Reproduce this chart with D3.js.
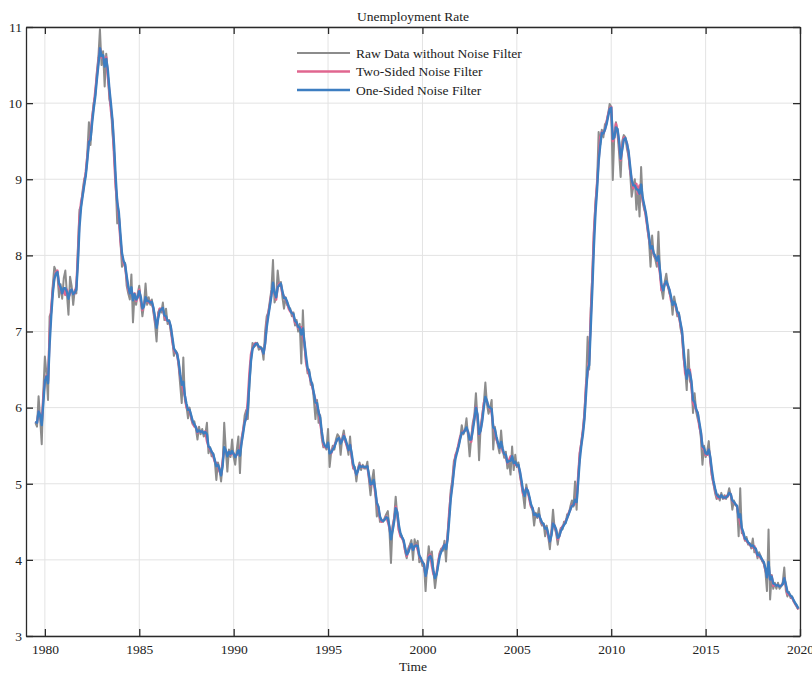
<!DOCTYPE html>
<html>
<head>
<meta charset="utf-8">
<script src="https://cdn.jsdelivr.net/npm/d3@7"></script>
<style>
  body { margin: 0; background: #ffffff; }
  text { font-family: "Liberation Serif", "Times New Roman", serif; fill: #222222; }
</style>
</head>
<body>
<svg id="chart" width="812" height="673"></svg>
<script>
// Monthly unemployment rate, first observation July 1979, one value per month.
const startYear = 1979;
const startMonth = 7;

// Raw series (Jul 1979 .. Dec 2019), one row per calendar year
const rawData = [
  5.80, 5.75, 6.15, 5.85, 5.52, 6.20,
  6.67, 6.45, 6.10, 7.20, 7.25, 7.60, 7.85, 7.80, 7.75, 7.45, 7.62, 7.43,
  7.70, 7.80, 7.50, 7.22, 7.72, 7.60, 7.35, 7.55, 7.50, 8.10, 8.60, 8.65,
  8.85, 9.00, 9.05, 9.35, 9.75, 9.45, 9.80, 10.00, 10.10, 10.40, 10.60, 10.97,
  10.50, 10.68, 10.22, 10.65, 10.40, 10.05, 9.95, 9.60, 9.35, 8.95, 8.42, 8.55,
  8.20, 7.85, 7.90, 7.90, 7.60, 7.50, 7.42, 7.75, 7.12, 7.50, 7.35, 7.50,
  7.60, 7.40, 7.20, 7.35, 7.63, 7.35, 7.45, 7.35, 7.42, 7.25, 7.10, 6.87,
  7.25, 7.30, 7.25, 7.38, 7.15, 7.30, 7.10, 7.15, 7.00, 6.90, 6.68, 6.75,
  6.72, 6.55, 6.30, 6.06, 6.66, 6.10, 6.02, 5.86, 6.00, 5.85, 5.78, 5.82,
  5.72, 5.58, 5.75, 5.65, 5.72, 5.62, 5.65, 5.80, 5.40, 5.48, 5.36, 5.40,
  5.30, 5.05, 5.28, 5.20, 5.03, 5.25, 5.80, 5.45, 5.16, 5.45, 5.35, 5.58,
  5.35, 5.25, 5.45, 5.62, 5.14, 5.60, 5.70, 5.90, 5.97, 5.85, 6.30, 6.62,
  6.85, 6.80, 6.82, 6.85, 6.76, 6.80, 6.78, 6.63, 7.00, 7.20, 7.25, 7.40,
  7.55, 7.94, 7.38, 7.45, 7.80, 7.60, 7.65, 7.45, 7.30, 7.45, 7.35, 7.32,
  7.30, 7.20, 7.25, 7.08, 7.15, 7.00, 7.10, 6.58, 7.28, 6.80, 6.62, 6.45,
  6.50, 6.30, 6.32, 6.10, 5.85, 6.10, 5.80, 5.90, 5.60, 5.48, 5.50, 5.45,
  5.72, 5.22, 5.42, 5.50, 5.45, 5.58, 5.65, 5.62, 5.38, 5.60, 5.70, 5.55,
  5.50, 5.38, 5.62, 5.35, 5.20, 5.22, 5.03, 5.20, 5.28, 5.18, 5.25, 5.20,
  5.20, 5.29, 5.05, 4.85, 5.05, 5.18, 4.90, 4.57, 4.70, 4.50, 4.52, 4.50,
  4.55, 4.60, 4.64, 4.40, 3.96, 4.45, 4.55, 4.83, 4.58, 4.38, 4.35, 4.30,
  4.25, 4.11, 4.02, 4.15, 4.20, 4.26, 4.00, 4.27, 4.18, 4.25, 3.97, 4.02,
  3.92, 3.95, 3.59, 3.95, 4.18, 4.00, 4.11, 3.85, 3.63, 3.80, 3.95, 4.10,
  4.15, 4.12, 4.25, 3.98, 4.35, 4.60, 4.92, 5.05, 5.30, 5.35, 5.45, 5.50,
  5.60, 5.77, 5.65, 5.70, 5.86, 5.62, 5.36, 5.60, 5.80, 5.90, 6.19, 5.85,
  5.31, 5.75, 5.90, 6.05, 6.33, 6.05, 5.92, 6.00, 6.10, 5.45, 5.75, 5.60,
  5.50, 5.40, 5.70, 5.45, 5.34, 5.42, 5.20, 5.30, 5.12, 5.49, 5.18, 5.38,
  5.22, 5.28, 5.10, 5.00, 4.85, 4.68, 4.99, 4.88, 4.82, 4.70, 4.65, 4.45,
  4.62, 4.55, 4.68, 4.50, 4.45, 4.48, 4.31, 4.45, 4.30, 4.14, 4.38, 4.66,
  4.42, 4.35, 4.20, 4.35, 4.42, 4.40, 4.50, 4.48, 4.60, 4.60, 4.70, 4.78,
  4.70, 5.03, 4.66, 5.10, 5.40, 5.55, 5.70, 5.95, 6.30, 6.93, 6.50, 7.30,
  7.75, 8.30, 8.70, 8.95, 9.62, 9.45, 9.65, 9.55, 9.72, 9.75, 9.85, 9.99,
  9.95, 8.99, 9.60, 9.75, 9.60, 9.35, 9.03, 9.50, 9.58, 9.55, 9.40, 9.30,
  9.10, 8.77, 8.90, 9.00, 8.60, 8.88, 8.51, 9.16, 8.70, 8.60, 8.55, 8.35,
  8.20, 7.85, 8.26, 8.00, 7.95, 7.85, 8.31, 7.80, 7.55, 7.43, 7.65, 7.76,
  7.60, 7.50, 7.45, 7.22, 7.46, 7.35, 7.20, 7.25, 7.05, 6.95, 6.65, 6.50,
  6.23, 6.76, 6.35, 6.30, 5.93, 6.19, 5.95, 5.85, 5.78, 5.60, 5.25, 5.50,
  5.35, 5.42, 5.56, 5.28, 5.10, 5.00, 4.88, 4.80, 4.86, 4.78, 4.88, 4.80,
  4.85, 4.80, 4.85, 4.94, 4.85, 4.66, 4.78, 4.72, 4.70, 4.31, 4.94, 4.35,
  4.35, 4.25, 4.30, 4.20, 4.22, 4.15, 4.28, 4.10, 4.15, 4.02, 4.10, 4.05,
  3.98, 3.95, 3.85, 3.59, 4.40, 3.48, 3.80, 3.62, 3.70, 3.62, 3.70, 3.62,
  3.65, 3.70, 3.90, 3.60, 3.52, 3.58, 3.50, 3.52, 3.45, 3.42, 3.38, 3.35
];

// Two-sided (smoothed) estimate
const twoSided = [
  5.82, 5.80, 5.95, 5.90, 5.80, 6.15,
  6.35, 6.42, 6.35, 6.95, 7.30, 7.55, 7.70, 7.78, 7.80, 7.60, 7.55, 7.50,
  7.55, 7.48, 7.55, 7.45, 7.50, 7.55, 7.50, 7.50, 7.60, 8.00, 8.50, 8.70,
  8.80, 8.95, 9.10, 9.30, 9.50, 9.55, 9.80, 9.95, 10.15, 10.35, 10.55, 10.72,
  10.60, 10.62, 10.50, 10.60, 10.35, 10.15, 9.90, 9.75, 9.30, 8.90, 8.70, 8.50,
  8.20, 8.00, 7.90, 7.85, 7.70, 7.55, 7.50, 7.55, 7.45, 7.50, 7.40, 7.45,
  7.55, 7.40, 7.28, 7.35, 7.44, 7.40, 7.38, 7.40, 7.37, 7.30, 7.15, 7.06,
  7.20, 7.30, 7.30, 7.28, 7.20, 7.15, 7.15, 7.12, 7.06, 6.87, 6.76, 6.72,
  6.71, 6.58, 6.41, 6.32, 6.23, 6.15, 6.00, 5.99, 5.95, 5.88, 5.80, 5.75,
  5.75, 5.67, 5.69, 5.69, 5.68, 5.67, 5.69, 5.56, 5.49, 5.45, 5.42, 5.36,
  5.29, 5.27, 5.23, 5.16, 5.12, 5.30, 5.45, 5.42, 5.40, 5.42, 5.38, 5.40,
  5.40, 5.36, 5.38, 5.40, 5.45, 5.55, 5.70, 5.82, 5.86, 6.10, 6.45, 6.70,
  6.78, 6.83, 6.85, 6.82, 6.80, 6.78, 6.76, 6.71, 6.85, 7.10, 7.24, 7.35,
  7.50, 7.60, 7.50, 7.42, 7.58, 7.63, 7.62, 7.50, 7.46, 7.42, 7.38, 7.30,
  7.26, 7.25, 7.20, 7.12, 7.10, 7.05, 7.03, 7.06, 6.93, 6.85, 6.60, 6.50,
  6.43, 6.35, 6.27, 6.18, 6.10, 6.02, 5.95, 5.80, 5.66, 5.52, 5.48, 5.49,
  5.49, 5.42, 5.40, 5.46, 5.50, 5.55, 5.58, 5.60, 5.55, 5.57, 5.64, 5.57,
  5.49, 5.44, 5.51, 5.36, 5.22, 5.18, 5.12, 5.18, 5.25, 5.22, 5.22, 5.22,
  5.22, 5.22, 5.09, 4.98, 5.00, 5.03, 4.88, 4.75, 4.66, 4.55, 4.50, 4.52,
  4.53, 4.57, 4.50, 4.42, 4.31, 4.40, 4.53, 4.70, 4.61, 4.40, 4.31, 4.29,
  4.24, 4.13, 4.05, 4.11, 4.18, 4.20, 4.13, 4.18, 4.20, 4.13, 4.05, 4.00,
  3.98, 3.92, 3.79, 3.90, 4.05, 4.07, 3.92, 3.81, 3.79, 3.83, 3.98, 4.08,
  4.12, 4.17, 4.20, 4.16, 4.30, 4.62, 4.85, 5.00, 5.22, 5.38, 5.42, 5.53,
  5.62, 5.66, 5.69, 5.70, 5.72, 5.68, 5.60, 5.55, 5.75, 5.86, 6.01, 5.88,
  5.64, 5.71, 5.86, 6.06, 6.12, 6.08, 6.01, 5.99, 5.93, 5.75, 5.69, 5.58,
  5.53, 5.47, 5.53, 5.42, 5.40, 5.36, 5.27, 5.31, 5.36, 5.31, 5.29, 5.25,
  5.25, 5.23, 5.14, 4.99, 4.86, 4.90, 4.94, 4.90, 4.79, 4.70, 4.68, 4.59,
  4.59, 4.57, 4.59, 4.53, 4.48, 4.46, 4.42, 4.40, 4.31, 4.24, 4.35, 4.48,
  4.45, 4.38, 4.27, 4.31, 4.40, 4.44, 4.46, 4.51, 4.55, 4.62, 4.66, 4.72,
  4.72, 4.74, 4.82, 5.10, 5.40, 5.53, 5.70, 5.90, 6.30, 6.45, 6.65, 7.20,
  7.70, 8.30, 8.65, 8.95, 9.25, 9.55, 9.62, 9.60, 9.65, 9.75, 9.85, 9.93,
  9.95, 9.50, 9.55, 9.73, 9.64, 9.47, 9.25, 9.42, 9.55, 9.53, 9.47, 9.34,
  9.12, 8.99, 8.88, 8.92, 8.94, 8.81, 8.92, 8.85, 8.72, 8.64, 8.51, 8.37,
  8.22, 8.11, 8.07, 8.02, 7.98, 7.94, 7.89, 7.76, 7.54, 7.59, 7.63, 7.63,
  7.60, 7.54, 7.41, 7.37, 7.37, 7.33, 7.25, 7.20, 7.10, 6.98, 6.70, 6.45,
  6.40, 6.45, 6.50, 6.28, 6.06, 6.02, 5.97, 5.93, 5.75, 5.67, 5.47, 5.45,
  5.38, 5.38, 5.45, 5.32, 5.12, 5.01, 4.92, 4.84, 4.81, 4.84, 4.84, 4.82,
  4.81, 4.84, 4.83, 4.88, 4.86, 4.77, 4.75, 4.73, 4.70, 4.57, 4.49, 4.40,
  4.33, 4.27, 4.25, 4.22, 4.20, 4.18, 4.16, 4.18, 4.11, 4.05, 4.07, 4.02,
  4.00, 3.96, 3.87, 3.79, 3.90, 3.74, 3.79, 3.66, 3.68, 3.66, 3.66, 3.66,
  3.66, 3.68, 3.76, 3.66, 3.55, 3.55, 3.52, 3.50, 3.46, 3.42, 3.39, 3.35
];

// One-sided (real-time) estimate
const oneSided = [
  5.82, 5.80, 5.95, 5.90, 5.77, 6.06,
  6.35, 6.41, 6.32, 6.82, 7.19, 7.49, 7.69, 7.76, 7.78, 7.63, 7.58, 7.50,
  7.57, 7.57, 7.52, 7.43, 7.53, 7.55, 7.49, 7.51, 7.55, 7.90, 8.37, 8.63,
  8.78, 8.92, 9.05, 9.25, 9.49, 9.52, 9.73, 9.92, 10.08, 10.30, 10.50, 10.72,
  10.62, 10.63, 10.48, 10.58, 10.44, 10.19, 9.99, 9.77, 9.45, 9.03, 8.70, 8.57,
  8.29, 8.03, 7.93, 7.88, 7.73, 7.59, 7.50, 7.58, 7.41, 7.49, 7.42, 7.45,
  7.53, 7.45, 7.30, 7.33, 7.45, 7.40, 7.40, 7.38, 7.39, 7.31, 7.19, 7.05,
  7.17, 7.27, 7.29, 7.31, 7.21, 7.20, 7.14, 7.14, 7.07, 6.93, 6.78, 6.74,
  6.71, 6.61, 6.44, 6.30, 6.34, 6.16, 6.05, 5.97, 5.97, 5.90, 5.82, 5.78,
  5.74, 5.68, 5.70, 5.68, 5.69, 5.66, 5.68, 5.65, 5.49, 5.47, 5.42, 5.39,
  5.31, 5.23, 5.25, 5.19, 5.11, 5.24, 5.48, 5.44, 5.36, 5.42, 5.39, 5.43,
  5.39, 5.35, 5.39, 5.44, 5.37, 5.53, 5.66, 5.80, 5.87, 5.98, 6.32, 6.61,
  6.77, 6.81, 6.84, 6.84, 6.80, 6.79, 6.77, 6.71, 6.84, 7.05, 7.20, 7.33,
  7.47, 7.64, 7.51, 7.45, 7.58, 7.61, 7.63, 7.53, 7.44, 7.44, 7.39, 7.33,
  7.28, 7.24, 7.23, 7.14, 7.12, 7.06, 7.05, 6.96, 7.04, 6.86, 6.68, 6.52,
  6.47, 6.36, 6.30, 6.19, 6.07, 6.06, 5.94, 5.87, 5.69, 5.55, 5.50, 5.48,
  5.54, 5.40, 5.41, 5.45, 5.48, 5.54, 5.59, 5.60, 5.53, 5.57, 5.63, 5.59,
  5.52, 5.44, 5.51, 5.40, 5.26, 5.20, 5.12, 5.17, 5.24, 5.22, 5.23, 5.22,
  5.22, 5.23, 5.12, 4.99, 5.00, 5.05, 4.93, 4.75, 4.70, 4.57, 4.52, 4.51,
  4.53, 4.56, 4.55, 4.44, 4.27, 4.38, 4.50, 4.68, 4.63, 4.46, 4.35, 4.30,
  4.26, 4.16, 4.07, 4.10, 4.16, 4.21, 4.13, 4.18, 4.19, 4.18, 4.06, 4.02,
  3.97, 3.94, 3.79, 3.88, 4.03, 4.05, 4.00, 3.85, 3.76, 3.81, 3.93, 4.05,
  4.11, 4.15, 4.20, 4.14, 4.27, 4.52, 4.80, 4.97, 5.17, 5.33, 5.41, 5.49,
  5.59, 5.67, 5.67, 5.70, 5.74, 5.68, 5.58, 5.58, 5.70, 5.84, 6.00, 5.91,
  5.65, 5.70, 5.82, 6.00, 6.14, 6.09, 6.01, 6.00, 5.98, 5.74, 5.72, 5.62,
  5.54, 5.47, 5.55, 5.46, 5.39, 5.38, 5.28, 5.30, 5.30, 5.36, 5.27, 5.29,
  5.24, 5.25, 5.16, 5.04, 4.90, 4.84, 4.94, 4.91, 4.83, 4.73, 4.68, 4.59,
  4.60, 4.57, 4.60, 4.54, 4.49, 4.47, 4.41, 4.42, 4.34, 4.24, 4.32, 4.48,
  4.45, 4.40, 4.29, 4.31, 4.38, 4.42, 4.46, 4.49, 4.55, 4.60, 4.66, 4.71,
  4.72, 4.79, 4.76, 5.02, 5.31, 5.50, 5.65, 5.85, 6.18, 6.50, 6.56, 7.06,
  7.56, 8.12, 8.56, 8.86, 9.23, 9.44, 9.61, 9.60, 9.65, 9.72, 9.82, 9.92,
  9.94, 9.53, 9.55, 9.68, 9.66, 9.50, 9.27, 9.39, 9.52, 9.54, 9.47, 9.37,
  9.18, 8.99, 8.92, 8.92, 8.87, 8.86, 8.81, 8.93, 8.76, 8.66, 8.56, 8.41,
  8.26, 8.09, 8.12, 8.03, 7.99, 7.93, 7.99, 7.81, 7.61, 7.54, 7.62, 7.66,
  7.61, 7.55, 7.46, 7.35, 7.39, 7.35, 7.26, 7.23, 7.12, 7.01, 6.77, 6.54,
  6.38, 6.50, 6.46, 6.35, 6.10, 6.07, 5.98, 5.93, 5.81, 5.68, 5.49, 5.47,
  5.40, 5.39, 5.45, 5.35, 5.18, 5.04, 4.94, 4.86, 4.83, 4.82, 4.85, 4.82,
  4.82, 4.82, 4.84, 4.88, 4.86, 4.78, 4.76, 4.73, 4.71, 4.56, 4.60, 4.42,
  4.36, 4.28, 4.27, 4.23, 4.21, 4.18, 4.19, 4.16, 4.14, 4.06, 4.07, 4.04,
  4.00, 3.97, 3.89, 3.77, 3.97, 3.74, 3.78, 3.69, 3.68, 3.66, 3.67, 3.65,
  3.66, 3.68, 3.76, 3.68, 3.58, 3.56, 3.53, 3.51, 3.47, 3.43, 3.40, 3.36
];

const yearTicks = [1980, 1985, 1990, 1995, 2000, 2005, 2010, 2015, 2020];
const rateTicks = [3, 4, 5, 6, 7, 8, 9, 10, 11];
const seriesNames = ["Raw Data without Noise Filter", "Two-Sided Noise Filter", "One-Sided Noise Filter"];
const seriesColors = ["#8c8c8c", "#e0668f", "#3d7ec1"];
const seriesWidths = [2.0, 2.4, 2.4];

const svg = d3.select("#chart");
const plot = { left: 26, right: 800, top: 27, bottom: 636 };

const x = d3.scaleLinear().domain([1979, 2020]).range([plot.left, plot.right]);
const y = d3.scaleLinear().domain([3, 11]).range([plot.bottom, plot.top]);

const timeOf = i => startYear + (startMonth - 1 + i) / 12;

// grid
svg.append("g").selectAll("line").data(yearTicks).join("line")
  .attr("x1", d => x(d)).attr("x2", d => x(d))
  .attr("y1", plot.top).attr("y2", plot.bottom)
  .attr("stroke", "#e3e3e3").attr("stroke-width", 1);
svg.append("g").selectAll("line").data(rateTicks).join("line")
  .attr("x1", plot.left).attr("x2", plot.right)
  .attr("y1", d => y(d)).attr("y2", d => y(d))
  .attr("stroke", "#e3e3e3").attr("stroke-width", 1);

// series
svg.append("defs").append("clipPath").attr("id", "plotClip")
  .append("rect").attr("x", plot.left).attr("y", plot.top)
  .attr("width", plot.right - plot.left).attr("height", plot.bottom - plot.top);

const lineGen = d3.line().x((d, i) => x(timeOf(i))).y(d => y(d));
const allSeries = [rawData, twoSided, oneSided];
const lines = svg.append("g").attr("clip-path", "url(#plotClip)");
allSeries.forEach((s, k) => {
  lines.append("path").datum(s)
    .attr("d", lineGen)
    .attr("fill", "none")
    .attr("stroke", seriesColors[k])
    .attr("stroke-width", seriesWidths[k])
    .attr("stroke-linejoin", "round");
});

// axes with inward ticks on all four sides
const tickLen = 7;
const axisColor = "#2a2a2a";
const fontSize = "13.5px";

const bottomAxis = d3.axisBottom(x).tickValues(yearTicks).tickFormat(d3.format("d"))
  .tickSizeInner(-tickLen).tickSizeOuter(0).tickPadding(8);
const topAxis = d3.axisTop(x).tickValues(yearTicks).tickFormat("")
  .tickSizeInner(-tickLen).tickSizeOuter(0);
const leftAxis = d3.axisLeft(y).tickValues(rateTicks).tickFormat(d3.format("d"))
  .tickSizeInner(-tickLen).tickSizeOuter(0).tickPadding(4);
const rightAxis = d3.axisRight(y).tickValues(rateTicks).tickFormat("")
  .tickSizeInner(-tickLen).tickSizeOuter(0);

function styleAxis(g) {
  g.select(".domain").attr("stroke", axisColor).attr("stroke-width", 1.3);
  g.selectAll(".tick line").attr("stroke", axisColor).attr("stroke-width", 1.3);
  g.selectAll(".tick text")
    .attr("fill", "#222")
    .style("font-family", '"Liberation Serif", "Times New Roman", serif')
    .style("font-size", fontSize);
}

svg.append("g").attr("transform", `translate(0,${plot.bottom})`).call(bottomAxis).call(styleAxis);
svg.append("g").attr("transform", `translate(0,${plot.top})`).call(topAxis).call(styleAxis);
svg.append("g").attr("transform", `translate(${plot.left},0)`).call(leftAxis).call(styleAxis);
svg.append("g").attr("transform", `translate(${plot.right},0)`).call(rightAxis).call(styleAxis);

// titles
svg.append("text").attr("x", (plot.left + plot.right) / 2).attr("y", 21)
  .attr("text-anchor", "middle").style("font-size", fontSize).text("Unemployment Rate");
svg.append("text").attr("x", (plot.left + plot.right) / 2).attr("y", 671)
  .attr("text-anchor", "middle").style("font-size", fontSize).text("Time");

// legend
const legend = svg.append("g").attr("transform", "translate(297,53)");
seriesNames.forEach((name, k) => {
  const row = legend.append("g").attr("transform", `translate(0,${k * 18.5})`);
  row.append("line").attr("x1", 0).attr("x2", 53).attr("y1", 0).attr("y2", 0)
    .attr("stroke", seriesColors[k]).attr("stroke-width", seriesWidths[k]);
  row.append("text").attr("x", 59).attr("y", 0).attr("dy", "0.35em")
    .style("font-size", fontSize).text(name);
});
</script>
</body>
</html>
